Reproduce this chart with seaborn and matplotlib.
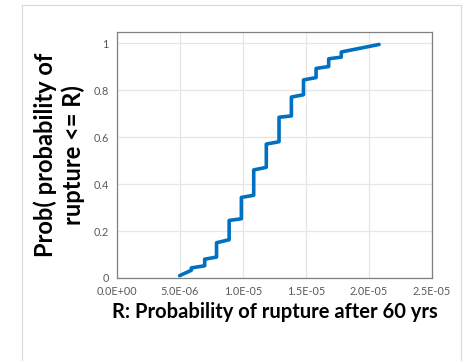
import matplotlib
matplotlib.use("Agg")
import matplotlib.pyplot as plt
import seaborn as sns
import pandas as pd
from matplotlib.ticker import FuncFormatter
from matplotlib.patches import Rectangle

# Data: vertices of the empirical CDF line
r_values = [4.97e-6, 5.9e-6, 5.9e-6, 6.96e-6, 6.96e-6, 7.9e-6, 7.9e-6, 8.9e-6, 8.9e-6,
            9.87e-6, 9.87e-6, 1.085e-5, 1.085e-5, 1.185e-5, 1.185e-5, 1.286e-5, 1.286e-5,
            1.384e-5, 1.384e-5, 1.48e-5, 1.48e-5, 1.58e-5, 1.58e-5, 1.68e-5, 1.68e-5,
            1.78e-5, 1.78e-5, 2.08e-5]
prob_values = [0.01, 0.033, 0.043, 0.052, 0.08, 0.089, 0.15, 0.163, 0.245,
               0.252, 0.343, 0.352, 0.46, 0.471, 0.57, 0.58, 0.684,
               0.69, 0.77, 0.78, 0.843, 0.853, 0.892, 0.90, 0.933,
               0.94, 0.962, 0.994]
x_ticks = [0, 5e-6, 1e-5, 1.5e-5, 2e-5, 2.5e-5]
y_ticks = [0, 0.2, 0.4, 0.6, 0.8, 1]
y_tick_labels = ["0", "0.2", "0.4", "0.6", "0.8", "1"]

df = pd.DataFrame({"R": r_values, "P": prob_values, "order": range(len(r_values))})

sns.set_style("white")
plt.rcParams["font.family"] = ["Lato", "DejaVu Sans"]

fig = plt.figure(figsize=(4.64, 3.61), dpi=100)
ax = fig.add_axes([117/464, 1 - 278/361, (432-117)/464, (278-32)/361])

# Chart area border
fig.patches.append(Rectangle((22/464, -0.1), (461-22)/464, 1 - 5/361 + 0.1,
                             transform=fig.transFigure, fill=False,
                             edgecolor="#D9D9D9", linewidth=0.8))

sns.lineplot(data=df, x="R", y="P", sort=False, estimator=None, ax=ax,
             color="#0070C0", linewidth=2.6, solid_capstyle="round")

ax.set_xlim(0, 2.5e-5)
ax.set_ylim(0, 1.047)
ax.set_xticks(x_ticks)
ax.set_yticks(y_ticks)
ax.set_yticklabels(y_tick_labels)
ax.xaxis.set_major_formatter(FuncFormatter(
    lambda v, p: "0.0E+00" if v == 0 else ("%.1E" % v)))
ax.grid(True, color="#E6E6E6", linewidth=0.9)
ax.set_axisbelow(True)
for s in ax.spines.values():
    s.set_color("#808080")
    s.set_linewidth(0.9)
ax.tick_params(axis="both", length=0, labelsize=7.8, colors="#595959", pad=6)

ax.set_xlabel("R: Probability of rupture after 60 yrs", fontsize=14.5,
              fontweight="bold", color="black", labelpad=3)
ax.set_ylabel("Prob( probability of\nrupture <= R)", fontsize=17,
              fontweight="bold", color="black", labelpad=6, linespacing=1.2)

fig.savefig("out.png", dpi=100)
